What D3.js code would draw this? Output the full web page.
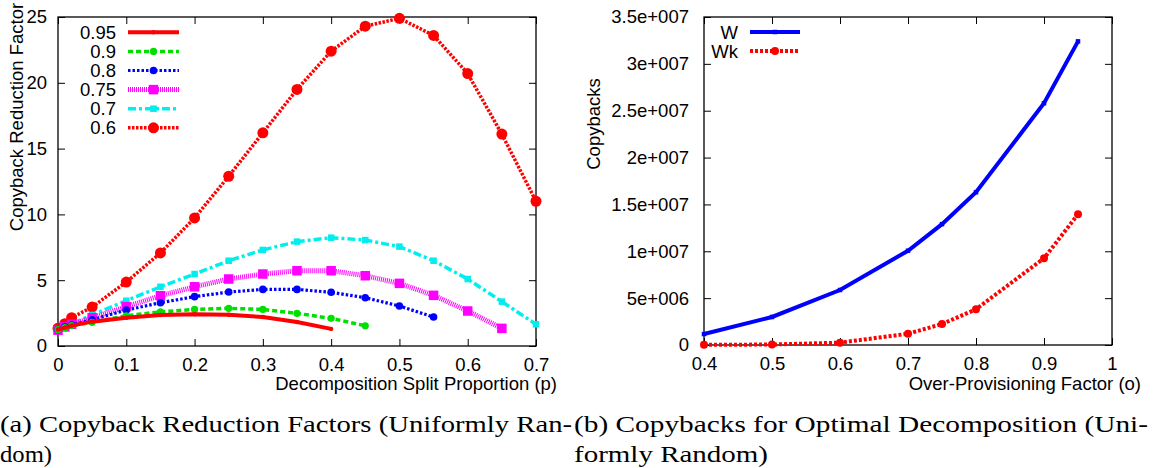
<!DOCTYPE html>
<html><head><meta charset="utf-8">
<script src="https://cdn.jsdelivr.net/npm/d3@7"></script>
<style>
html,body{margin:0;padding:0;background:#fff;}
svg{display:block;}
svg text{font-family:'Liberation Sans', Arial, Helvetica, sans-serif;}
svg text.cap{font-family:'Liberation Serif', 'Times New Roman', serif;}
</style></head>
<body>
<svg id="chart" width="1154" height="468"></svg>
<script>
// ---------- Data ----------
const pValues = [0, 0.01, 0.02, 0.05, 0.1, 0.15, 0.2, 0.25, 0.3, 0.35, 0.4, 0.45, 0.5, 0.55, 0.6, 0.65, 0.7];
const seriesNames = ["0.95", "0.9", "0.8", "0.75", "0.7", "0.6"];
const r095 = [1.25, 1.4, 1.55, 1.85, 2.15, 2.35, 2.42, 2.38, 2.2, 1.82, 1.3];
const r090 = [1.25, 1.4, 1.55, 1.8, 2.3, 2.6, 2.78, 2.86, 2.78, 2.48, 2.1, 1.54];
const r080 = [1.25, 1.45, 1.6, 2.0, 2.73, 3.29, 3.75, 4.1, 4.3, 4.3, 4.08, 3.67, 3.04, 2.2];
const r075 = [1.2, 1.45, 1.65, 2.15, 2.99, 3.82, 4.5, 5.09, 5.47, 5.72, 5.72, 5.34, 4.76, 3.85, 2.66, 1.34];
const r070 = [1.2, 1.45, 1.7, 2.36, 3.44, 4.5, 5.47, 6.48, 7.3, 7.93, 8.23, 8.05, 7.55, 6.48, 5.09, 3.37, 1.65];
const r060 = [1.35, 1.7, 2.15, 2.96, 4.86, 7.07, 9.73, 12.9, 16.2, 19.5, 22.4, 24.3, 24.9, 23.6, 20.7, 16.1, 11.0];
const leftXTicks = [0, 0.1, 0.2, 0.3, 0.4, 0.5, 0.6, 0.7];
const leftYTicks = [0, 5, 10, 15, 20, 25];

const oValues = [0.4, 0.5, 0.6, 0.7, 0.75, 0.8, 0.9, 0.95];
const copyW  = [1.17e6, 2.99e6, 5.87e6, 1.006e7, 1.29e7, 1.63e7, 2.58e7, 3.24e7];
const copyWk = [0.02e6, 0.05e6, 0.25e6, 1.2e6, 2.24e6, 3.81e6, 9.25e6, 1.395e7];
const rightSeriesNames = ["W", "Wk"];
const rightXTicks = [0.4, 0.5, 0.6, 0.7, 0.8, 0.9, 1];
const rightYTicks = [0, 5e6, 1e7, 1.5e7, 2e7, 2.5e7, 3e7, 3.5e7];
const rightYTickLabels = ["0", "5e+006", "1e+007", "1.5e+007", "2e+007", "2.5e+007", "3e+007", "3.5e+007"];

const captionA = ["(a) Copyback Reduction Factors (Uniformly Ran-", "dom)"];
const captionB = ["(b) Copybacks for Optimal Decomposition (Uni-", "formly Random)"];

// ---------- Setup ----------
const svg = d3.select("#chart");
const FS = 18.5;

function frame(g, x0, x1, y0, y1) {
  g.append("rect").attr("x", x0).attr("y", y1).attr("width", x1 - x0).attr("height", y0 - y1)
    .attr("fill", "none").attr("stroke", "#000").attr("stroke-width", 1.3);
}

function axes(x, y, xTicks, yTicks, yFmt, yPad) {
  const [x0, x1] = x.range();
  const [y0, y1] = y.range();
  const g = svg.append("g");
  const bottom = g.append("g").attr("transform", `translate(0,${y0})`)
    .call(d3.axisBottom(x).tickValues(xTicks).tickSizeInner(-7).tickSizeOuter(0).tickPadding(12).tickFormat(d3.format("")));
  const top = g.append("g").attr("transform", `translate(0,${y1})`)
    .call(d3.axisTop(x).tickValues(xTicks).tickSizeInner(-7).tickSizeOuter(0).tickFormat(() => ""));
  const left = g.append("g").attr("transform", `translate(${x0},0)`)
    .call(d3.axisLeft(y).tickValues(yTicks).tickSizeInner(-7).tickSizeOuter(0).tickPadding(yPad).tickFormat(yFmt));
  const right = g.append("g").attr("transform", `translate(${x1},0)`)
    .call(d3.axisRight(y).tickValues(yTicks).tickSizeInner(-7).tickSizeOuter(0).tickFormat(() => ""));
  [bottom, top, left, right].forEach(a => {
    a.attr("font-family", null);
    a.select(".domain").remove();
    a.selectAll("line").attr("stroke", "#000").attr("stroke-width", 1);
    a.selectAll("text").attr("font-size", FS).attr("fill", "#000");
  });
  frame(g, x0, x1, y0, y1);
}

// ---------- Left chart ----------
const xL = d3.scaleLinear().domain([0, 0.7]).range([58, 536]);
const yL = d3.scaleLinear().domain([0, 25]).range([346, 17]);
axes(xL, yL, leftXTicks, leftYTicks, d3.format("d"), 11);

const leftSeries = [
  {name: seriesNames[0], vals: r095, color: "#ff0000", dash: null, w: 4, marker: "dot", ms: 2.2},
  {name: seriesNames[1], vals: r090, color: "#00e000", dash: "5,3", w: 3.5, marker: "circle", ms: 3.6},
  {name: seriesNames[2], vals: r080, color: "#0000ff", dash: "2.5,2", w: 3.2, marker: "circle", ms: 3.8},
  {name: seriesNames[3], vals: r075, color: "#ff00ff", dash: "1,1", w: 5, marker: "square", ms: 9.5},
  {name: seriesNames[4], vals: r070, color: "#00eeee", dash: "8,3,3,3", w: 3.5, marker: "square", ms: 6.5},
  {name: seriesNames[5], vals: r060, color: "#ff0000", dash: "2.5,1.5", w: 3.5, marker: "circle", ms: 5.5}
];

function drawMarker(g, type, cx, cy, size, color) {
  if (type === "square") {
    g.append("rect").attr("x", cx - size / 2).attr("y", cy - size / 2).attr("width", size).attr("height", size).attr("fill", color);
  } else {
    g.append("circle").attr("cx", cx).attr("cy", cy).attr("r", size).attr("fill", color);
  }
}

const plotL = svg.append("g");
leftSeries.slice().reverse().forEach(s => {
  const pts = s.vals.map((v, i) => [pValues[i], v]);
  const line = d3.line().x(d => xL(d[0])).y(d => yL(d[1]));
  plotL.append("path").attr("d", line(pts)).attr("fill", "none").attr("stroke", s.color)
    .attr("stroke-width", s.w).attr("stroke-dasharray", s.dash);
  pts.forEach(d => drawMarker(plotL, s.marker, xL(d[0]), yL(d[1]), s.ms, s.color));
});

// Left legend
const legL = svg.append("g");
leftSeries.forEach((s, i) => {
  const yy = 32.3 + i * 19.1;
  legL.append("text").attr("x", 116).attr("y", yy + 6.5).attr("text-anchor", "end").attr("font-size", FS).text(s.name);
  legL.append("line").attr("x1", 128).attr("x2", 179).attr("y1", yy).attr("y2", yy)
    .attr("stroke", s.color).attr("stroke-width", s.w).attr("stroke-dasharray", s.dash);
  drawMarker(legL, s.marker, 153.5, yy, s.ms, s.color);
});

// Left axis titles
svg.append("text").attr("x", 557).attr("y", 390).attr("text-anchor", "end").attr("font-size", FS)
  .text("Decomposition Split Proportion (p)");
svg.append("text").attr("transform", "translate(23,117) rotate(-90)").attr("text-anchor", "middle").attr("font-size", FS)
  .text("Copyback Reduction Factor");

// ---------- Right chart ----------
const xR = d3.scaleLinear().domain([0.4, 1]).range([704, 1112]);
const yR = d3.scaleLinear().domain([0, 3.5e7]).range([345, 17]);
axes(xR, yR, rightXTicks, rightYTicks, d => rightYTickLabels[rightYTicks.indexOf(d)], 15);

const rightSeries = [
  {name: rightSeriesNames[0], vals: copyW, color: "#0000ff", dash: null, w: 4, marker: "square", ms: 4.5},
  {name: rightSeriesNames[1], vals: copyWk, color: "#ff0000", dash: "3,2", w: 4, marker: "circle", ms: 4}
];
const plotR = svg.append("g");
rightSeries.forEach(s => {
  const pts = s.vals.map((v, i) => [oValues[i], v]);
  const line = d3.line().x(d => xR(d[0])).y(d => yR(d[1]));
  plotR.append("path").attr("d", line(pts)).attr("fill", "none").attr("stroke", s.color)
    .attr("stroke-width", s.w).attr("stroke-dasharray", s.dash);
  pts.forEach(d => drawMarker(plotR, s.marker, xR(d[0]), yR(d[1]), s.ms, s.color));
});
const legR = svg.append("g");
rightSeries.forEach((s, i) => {
  const yy = 32 + i * 19.1;
  legR.append("text").attr("x", 738).attr("y", yy + 6.5).attr("text-anchor", "end").attr("font-size", FS).text(s.name);
  legR.append("line").attr("x1", 750).attr("x2", 800).attr("y1", yy).attr("y2", yy)
    .attr("stroke", s.color).attr("stroke-width", s.w).attr("stroke-dasharray", s.dash);
  drawMarker(legR, s.marker, 775, yy, s.ms, s.color);
});
svg.append("text").attr("x", 1141).attr("y", 390).attr("text-anchor", "end").attr("font-size", FS)
  .text("Over-Provisioning Factor (o)");
svg.append("text").attr("transform", "translate(600,124) rotate(-90)").attr("text-anchor", "middle").attr("font-size", FS)
  .text("Copybacks");

// ---------- Captions ----------
function caption(lines, x, w1, w2) {
  const g = svg.append("g");
  g.append("text").attr("class", "cap").attr("x", x).attr("y", 432).attr("font-size", 23)
    .attr("textLength", w1).attr("lengthAdjust", "spacingAndGlyphs").text(lines[0]);
  g.append("text").attr("class", "cap").attr("x", x).attr("y", 462).attr("font-size", 23)
    .attr("textLength", w2).attr("lengthAdjust", "spacingAndGlyphs").text(lines[1]);
}
caption(captionA, 0, 572, 52);
caption(captionB, 574, 574, 194);
</script>
</body></html>
